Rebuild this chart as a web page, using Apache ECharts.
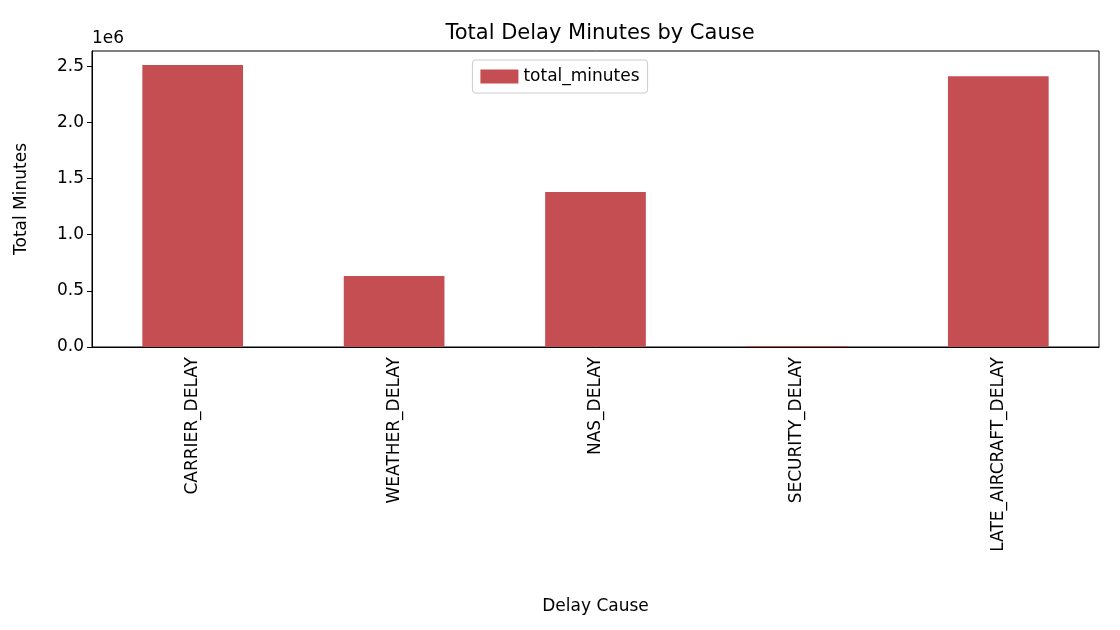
<!DOCTYPE html>
<html><head><meta charset="utf-8">
<script src="https://cdn.jsdelivr.net/npm/echarts@6/dist/echarts.min.js"></script>
<style>html,body{margin:0;padding:0;background:#fff}#c{width:1120px;height:630px}</style>
</head><body><div id="c"></div>
<script>
const categories = ["CARRIER_DELAY","WEATHER_DELAY","NAS_DELAY","SECURITY_DELAY","LATE_AIRCRAFT_DELAY"];
const totalMinutes = [2510000, 632000, 1379000, 8000, 2411000];
const chart = echarts.init(document.getElementById('c'));
const font = 'DejaVu Sans';
chart.setOption({
  animation:false,
  textStyle:{fontFamily:font},
  title:{text:'Total Delay Minutes by Cause',left:595,textAlign:'center',top:18,textStyle:{fontFamily:font,fontWeight:'normal',fontSize:21,color:'#000'}},
  legend:{data:['total_minutes'],left:'center',top:60,itemWidth:38,itemHeight:14,icon:'rect',itemGap:10,
    padding:[8,8],borderColor:'#ccc',borderWidth:1,borderRadius:3,textStyle:{fontFamily:font,fontSize:17,color:'#000'}},
  graphic:[{type:'text',left:92,top:30,style:{text:'1e6',font:'17px DejaVu Sans',fill:'#000'}}],
  grid:{left:92,right:21,top:51,bottom:283,show:true,borderColor:'#000',borderWidth:1},
  xAxis:{type:'category',data:categories,name:'Delay Cause',nameLocation:'middle',nameGap:251,
    nameTextStyle:{fontFamily:font,fontSize:17,color:'#000'},
    axisLine:{lineStyle:{color:'#000'}},axisTick:{alignWithLabel:true,lineStyle:{color:'#000'}},
    axisLabel:{rotate:90,color:'#000',fontSize:17,fontFamily:font,margin:10}},
  yAxis:{type:'value',min:0,max:2635500,interval:500000,name:'Total Minutes',nameLocation:'middle',nameGap:62,
    nameTextStyle:{fontFamily:font,fontSize:17,color:'#000'},
    splitLine:{show:false},axisLine:{show:true,lineStyle:{color:'#000'}},axisTick:{show:true,lineStyle:{color:'#000'}},
    axisLabel:{showMaxLabel:false,color:'#000',fontSize:17,fontFamily:font,formatter:v=>(v/1e6).toFixed(1)}},
  series:[{name:'total_minutes',type:'bar',data:totalMinutes,barWidth:'50%',itemStyle:{color:'#c44e52'}}]
});
</script></body></html>
